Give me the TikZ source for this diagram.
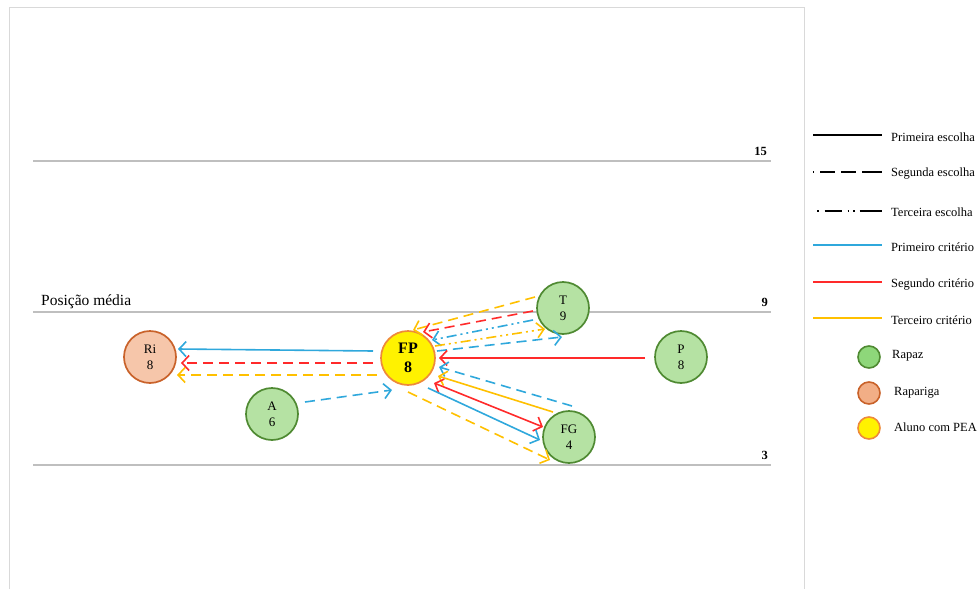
\documentclass[tikz,border=0pt]{standalone}
\usepackage{fontspec}
\setmainfont{Liberation Serif}
\usetikzlibrary{arrows.meta,calc}
\definecolor{cblue}{HTML}{2FA8DC}
\definecolor{cred}{HTML}{FF2A2A}
\definecolor{cyel}{HTML}{FFC000}
\definecolor{gfill}{HTML}{B5E2A3}
\definecolor{gdraw}{HTML}{4F8A32}
\definecolor{ofill}{HTML}{F6C6AA}
\definecolor{odraw}{HTML}{C9622A}
\definecolor{pdraw}{HTML}{EE8A3A}
\definecolor{lgfill}{HTML}{8ED77A}
\definecolor{lofill}{HTML}{F2AE86}
\definecolor{gline}{HTML}{BFBFBF}
\definecolor{frame}{HTML}{D9D9D9}
\tikzset{
  pupil/.style={circle,minimum size=52pt,inner sep=0pt,line width=1.7pt,align=center,
    font=\fontsize{13}{16}\selectfont},
  boy/.style={pupil,draw=gdraw,fill=gfill},
  girl/.style={pupil,draw=odraw,fill=ofill},
  pea/.style={pupil,draw=pdraw,fill=yellow,minimum size=54pt,font=\fontsize{16}{19}\selectfont\bfseries},
  lgc/.style={circle,minimum size=22pt,inner sep=0pt,line width=1.6pt},
  tipb/.tip={Straight Barb[length=7pt,width=15pt,line width=1.6pt]},
  conn/.style={line width=1.6pt,-tipb},
  dconn/.style={line width=1.6pt,tipb-tipb},
  dsh/.style={dash pattern=on 10pt off 6pt},
  ddot/.style={dash pattern=on 10pt off 4pt on 2pt off 4pt on 2pt off 4pt},
  level/.style={draw=gline,line width=1.8pt},
  lvllbl/.style={font=\fontsize{12.5}{14}\selectfont\bfseries,anchor=south east,inner sep=1pt},
  legtxt/.style={anchor=west,font=\fontsize{12.5}{14}\selectfont,inner sep=0pt},
  legline/.style={line width=1.8pt},
}
\begin{document}
\begin{tikzpicture}[x=1pt,y=-1pt]
\useasboundingbox (0,0) rectangle (979,589);
% frame
\draw[frame,line width=1pt] (9,589) -- (9,7) -- (804,7) -- (804,589);
% levels
\draw[level] (33,161) -- (771,161);
\draw[level] (33,312) -- (771,312);
\draw[level] (33,465) -- (771,465);
\node[lvllbl] (l15) at (768,157) {15};
\node[lvllbl] (l9) at (769,308) {9};
\node[lvllbl] (l3) at (769,461) {3};
\node[anchor=south west,inner sep=0pt,font=\fontsize{15.5}{17}\selectfont] (pm) at (41,309) {Posição média};
% pupils
\node[girl] (Ri) at (150,357) {Ri\\8};
\node[pea] (FP) at (408,358) {FP\\8};
\node[boy] (A) at (272,414) {A\\6};
\node[boy] (T) at (563,308) {T\\9};
\node[boy] (P) at (681,357) {P\\8};
\node[boy] (FG) at (569,437) {FG\\4};
% connectors
\draw[conn,cyel,dsh] ($(T)+(-28,-11)$) -- ($(FP)+(5,-28)$);
\draw[conn,cred,dsh] ($(T)+(-30,3)$) -- ($(FP)+(15,-26)$);
\draw[conn,cblue,ddot] ($(T)+(-30,12)$) -- ($(FP)+(24,-18)$);
\draw[conn,cyel,ddot] ($(FP)+(27,-12)$) -- ($(T)+(-18,21)$);
\draw[conn,cblue,dsh] ($(FP)+(29,-7)$) -- ($(T)+(-1,29)$);
\draw[conn,cred] ($(P)+(-36,1)$) -- ($(FP)+(31,0)$);
\draw[conn,cblue,dsh] ($(FG)+(3,-31)$) -- ($(FP)+(31,9)$);
\draw[conn,cyel] ($(FG)+(-16,-25)$) -- ($(FP)+(30,18)$);
\draw[dconn,cred] ($(FP)+(26,25)$) -- ($(FG)+(-26,-10)$);
\draw[conn,cblue] ($(FP)+(20,30)$) -- ($(FG)+(-29,3)$);
\draw[conn,cyel,dsh] ($(FP)+(0,34)$) -- ($(FG)+(-19,23)$);
\draw[conn,cblue] ($(FP)+(-35,-7)$) -- ($(Ri)+(28,-8)$);
\draw[conn,cred,dsh] ($(FP)+(-35,5)$) -- ($(Ri)+(31,6)$);
\draw[conn,cyel,dsh] ($(FP)+(-31,17)$) -- ($(Ri)+(27,18)$);
\draw[conn,cblue,dsh] ($(A)+(33,-12)$) -- ($(FP)+(-16,32)$);
% legend
\coordinate (k1a) at (813,135); \coordinate (k1b) at (882,135);
\coordinate (k2a) at (813,172); \coordinate (k2b) at (882,172);
\coordinate (k3a) at (817,211); \coordinate (k3b) at (882,211);
\coordinate (k4a) at (813,245); \coordinate (k4b) at (882,245);
\coordinate (k5a) at (813,282); \coordinate (k5b) at (882,282);
\coordinate (k6a) at (813,318); \coordinate (k6b) at (882,318);
\draw[legline,black] (k1a) -- (k1b);
\draw[legline,black,dash pattern=on 1pt off 6pt on 15pt off 6pt on 15pt off 6pt on 20pt] (k2a) -- (k2b);
\draw[legline,black,dash pattern=on 1.5pt off 6pt on 17pt off 6pt on 1.5pt off 4pt on 1.5pt off 5pt on 25pt] (k3a) -- (k3b);
\draw[legline,cblue] (k4a) -- (k4b);
\draw[legline,cred] (k5a) -- (k5b);
\draw[legline,cyel] (k6a) -- (k6b);
\node[legtxt] (t1) at (891,137) {Primeira escolha};
\node[legtxt] (t2) at (891,174) {Segunda escolha};
\node[legtxt] (t3) at (891,212) {Terceira escolha};
\node[legtxt] (t4) at (891,247) {Primeiro critério};
\node[legtxt] (t5) at (891,284) {Segundo critério};
\node[legtxt] (t6) at (891,320) {Terceiro critério};
\node[lgc,draw=gdraw,fill=lgfill] (c1) at (869,357) {};
\node[lgc,draw=odraw,fill=lofill] (c2) at (869,393) {};
\node[lgc,draw=pdraw,fill=yellow] (c3) at (869,428) {};
\node[legtxt] (t7) at (892,356) {Rapaz};
\node[legtxt] (t8) at (894,393) {Rapariga};
\node[legtxt] (t9) at (894,427) {Aluno com PEA};
\end{tikzpicture}
\end{document}
